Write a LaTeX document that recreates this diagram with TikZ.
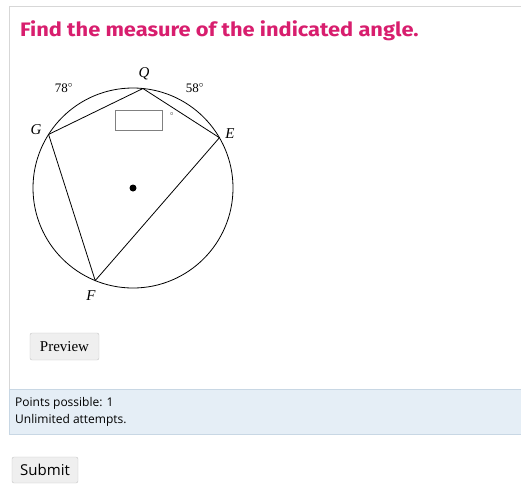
\documentclass[tikz,border=0pt]{standalone}
\usepackage{fontspec}
\usetikzlibrary{calc}
\newfontfamily\uifont{Open Sans}
\newfontfamily\titlefont{Fira Sans}
\newfontfamily\figfont{Liberation Serif}
\definecolor{titlepink}{RGB}{216,30,110}
\definecolor{bandblue}{RGB}{229,238,246}
\definecolor{bandline}{RGB}{200,215,228}
\definecolor{panelline}{RGB}{215,215,215}
\definecolor{btnfill}{RGB}{239,239,239}
\definecolor{btnline}{RGB}{195,195,195}
\tikzset{
  lbl/.style={font=\figfont\fontsize{15}{15}\selectfont\itshape, inner sep=0pt},
  arclbl/.style={font=\figfont\fontsize{13}{13}\selectfont, inner sep=0pt},
  btn/.style={draw=btnline, fill=btnfill, rounded corners=2pt},
}
\begin{document}
\begin{tikzpicture}[x=1pt,y=-1pt]
	\useasboundingbox (0,0) rectangle (521,496);
	
	% page frame
	\draw [panelline] (9,6) -- (521,6);
	\draw [panelline] (9,6) -- (9,434);
	\filldraw [draw=bandline, fill=bandblue] (9,389) rectangle (522,434);
	
	\node [anchor=base west, inner sep=0pt, text=titlepink,
	       font=\titlefont\bfseries\fontsize{19.5}{19.5}\selectfont] (title) at (20,36)
	      {\scalebox{1.12}[1]{Find the measure of the indicated angle.}};
	
	% circle and inscribed quadrilateral (y axis points down, so angles are negated)
	\coordinate (O) at (133,188);
	\draw [line width=0.8pt] (O) circle (100);
	\fill (O) circle (3.5);
	\coordinate (Q) at ($(O)+(-84.3:100)$);
	\coordinate (G) at ($(O)+(-147.6:100)$);
	\coordinate (E) at ($(O)+(-30.2:100)$);
	\coordinate (F) at ($(O)+(-247.8:100)$);
	\draw [line width=0.8pt] (G) -- (Q) -- (E) -- (F) -- (G);
	
	\node [lbl] (lQ) at (144,74) {Q};
	\node [lbl] (lG) at (36,130) {G};
	\node [lbl] (lE) at (230,134) {E};
	\node [lbl] (lF) at (91,296) {F};
	\node [arclbl] (a78) at (64,88) {78$^\circ$};
	\node [arclbl] (a58) at (195,88) {58$^\circ$};
	
	% answer box
	\draw [gray] (115,110) rectangle (162,130);
	\node [font=\fontsize{8}{8}\selectfont, inner sep=0pt] (deg) at (172,115) {$^\circ$};
	
	% buttons and info
	\draw [btn] (30,333) rectangle (99,360);
	\node [font=\figfont\fontsize{15}{15}\selectfont] (prev) at (64.5,347) {Preview};
	\node [anchor=west, font=\uifont\fontsize{12}{12}\selectfont, inner sep=0pt] (pts) at (15,403) {Points possible: 1};
	\node [anchor=west, font=\uifont\fontsize{12}{12}\selectfont, inner sep=0pt] (att) at (15,420) {Unlimited attempts.};
	\draw [btn] (12,457) rectangle (78,483);
	\node [font=\uifont\fontsize{15}{15}\selectfont] (sub) at (45,470) {Submit};
\end{tikzpicture}
\end{document}
